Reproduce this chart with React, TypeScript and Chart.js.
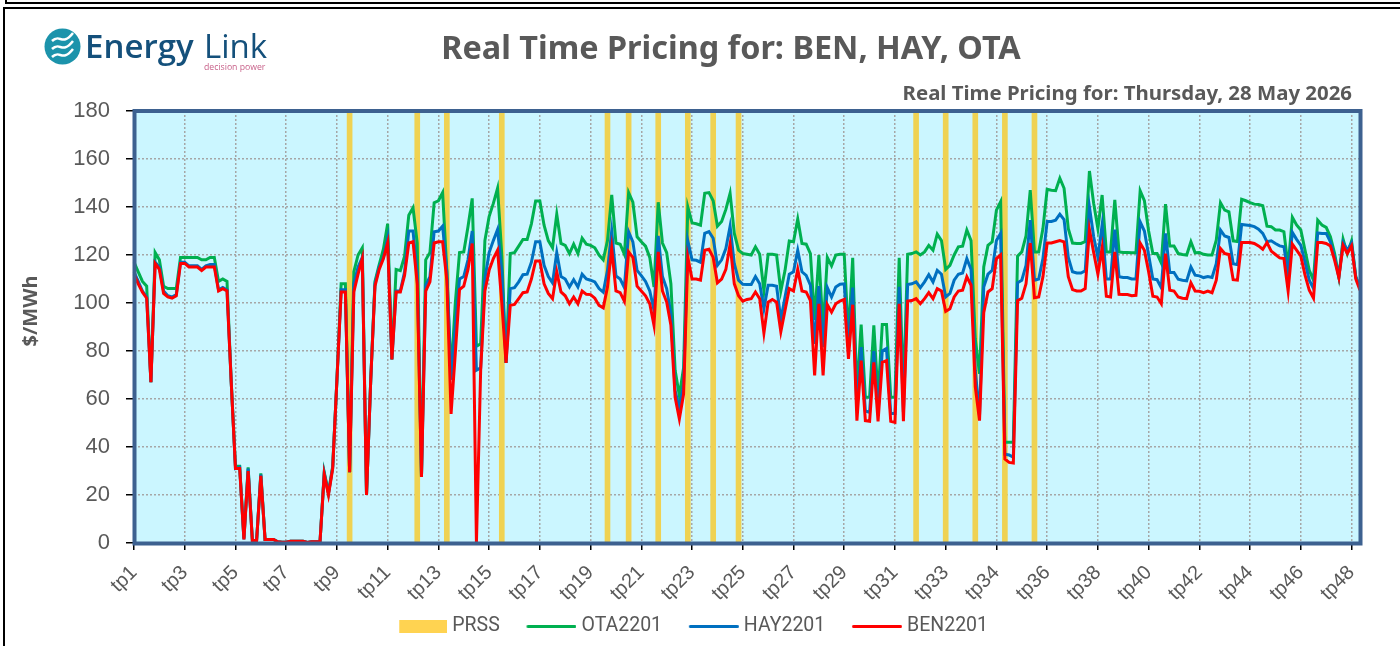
import React, { useEffect, useRef } from "react";
import { Chart, registerables } from "chart.js";

Chart.register(...registerables);

const tickLabels = [
  "tp1", "tp3", "tp5", "tp7", "tp9", "tp11", "tp13", "tp15", "tp17", "tp19", "tp21", "tp23", "tp25",
  "tp27", "tp29", "tp31", "tp33", "tp34", "tp36", "tp38", "tp40", "tp42", "tp44", "tp46", "tp48",
];

const POINTS_PER_TICK = 12;

const prssIndices = [51, 67, 74, 87, 112, 117, 124, 131, 137, 143, 185, 192, 199, 206, 213];

const ota2201 = [
  117, 113, 109, 107, 67, 121, 118, 107, 106, 106,
  106, 119, 119, 119, 119, 119, 118, 118, 119, 119,
  109, 110, 109, 67, 32, 32, 2, 31.5, 1, 1,
  29, 1.5, 1.5, 1.5, 0.5, 0.3, 0.3, 0.7, 0.7, 0.7,
  0.7, 0.2, 0.5, 0.5, 0.5, 29.5, 21, 32, 68, 108,
  108, 29.5, 113, 120, 123, 20, 68, 109, 116, 122.5,
  133, 76.5, 114, 113.5, 119.5, 136.6, 139.7, 125, 27.5, 118,
  121, 141.8, 142.6, 146, 113.6, 70, 100, 121, 121.3, 131.8,
  143.6, 82, 83, 126, 136, 141.5, 147.8, 120, 75, 120.6,
  121, 123.7, 126.5, 126.5, 133, 142.5, 142.5, 132.4, 126, 123,
  137, 124.8, 124, 120.6, 124.5, 120.6, 127, 124.5, 124, 123,
  120, 118, 126, 145, 125, 124.5, 120.3, 146, 142, 127.6,
  125.5, 123.7, 119, 106.7, 142, 125, 121, 108, 72, 61.4,
  73, 140, 133.4, 133, 132.4, 145.7, 146, 142.6, 132, 134,
  139, 145.7, 129, 122, 120.6, 120.3, 120, 123.4, 120.3, 105,
  120.3, 120.3, 120, 105, 113.6, 125.8, 125.5, 135, 124.8, 124.5,
  120.6, 93, 120, 88.6, 119, 115.5, 120, 120.3, 120.3, 85.8,
  118.8, 62, 91, 60.7, 60.7, 90.7, 60.7, 91, 91, 60.7,
  60.7, 118.8, 62, 120.3, 120.6, 121.3, 120, 121.3, 124, 122,
  128.7, 126, 114, 115.7, 120, 123.4, 123.7, 130.4, 126, 85,
  70.5, 115, 124, 125.5, 138.7, 142.2, 42, 42, 42, 119.5,
  121.3, 128, 147, 121.3, 121.3, 131, 147.4, 147, 146.8, 152,
  147.8, 131, 125, 124.8, 124.8, 125.6, 155, 141.5, 131, 145,
  121.3, 121.3, 143, 121.3, 121, 121, 120.9, 120.9, 146.7, 142.6,
  130, 120.6, 120.6, 116.7, 141.2, 123.7, 123.7, 120.6, 120.2, 120,
  125.5, 120.9, 121, 120.3, 120, 120, 126.2, 141.8, 138.7, 138,
  125.9, 125.6, 143.2, 142.6, 141.8, 141.2, 141, 140.5, 132, 131.8,
  130.4, 130.4, 129.7, 115, 135.7, 132.5, 130.4, 122, 113.6, 109.5,
  134.5, 132.5, 131.5, 127.6, 120.6, 110.9, 126.6, 120.5, 125.8, 110.9,
  106.7,
];

const hay2201 = [
  113, 109, 105, 102.5, 67, 117, 115, 105, 103, 102.5,
  103.5, 117, 117, 115.5, 115.5, 115.5, 114, 115.5, 116, 116,
  105.5, 106.5, 105.5, 67, 31, 31.5, 1.5, 31, 1, 1,
  28.5, 1.5, 1.5, 1.5, 0.5, 0.3, 0.3, 0.7, 0.7, 0.7,
  0.7, 0.2, 0.5, 0.5, 0.5, 29, 20.5, 31.5, 68, 105.5,
  105.5, 29.5, 108, 115, 119, 20, 68, 108, 115, 119,
  127, 76.5, 105, 105, 113, 130, 130, 112, 27.5, 107.4,
  111, 129.7, 130, 132, 113, 68, 90, 110, 111, 118,
  130, 72, 73, 110, 121, 126, 130.6, 113, 75, 106,
  106.4, 108.8, 111.8, 112, 117, 125.5, 125.5, 115.7, 111, 108.4,
  121, 111, 110, 106.7, 109.7, 106.7, 112, 110, 109.5, 108.8,
  106, 104.5, 113.6, 130, 111.3, 110, 106.4, 129.7, 125.5, 113.6,
  111.4, 109, 105, 97, 128, 111, 106, 95.5, 63.5, 56,
  66, 126, 118, 117.8, 117, 129, 129.7, 127, 115.7, 118,
  122.7, 132, 116.4, 109.5, 107.8, 107.7, 107.7, 111, 108, 97.6,
  107.4, 107.4, 107, 93, 102.5, 112, 113, 122, 113, 111.5,
  107.4, 83, 107, 81.6, 106.4, 102.5, 106.7, 107.8, 108, 82,
  106.4, 55, 81.6, 55, 54.5, 80, 54.5, 80, 81, 54,
  54, 106.7, 54.5, 107.7, 108, 108.8, 106.4, 108.8, 111.8, 108.8,
  113.6, 112, 102.5, 104, 109.5, 112, 112.5, 118.5, 114, 72,
  53, 106.7, 112, 113.6, 126, 129, 37, 36.7, 35.7, 108.4,
  109.5, 115.7, 134.5, 109.5, 110, 118.5, 134, 134, 134.5, 137,
  134.8, 119, 113, 112.5, 112.5, 113.4, 140, 127.6, 119, 132.5,
  110, 110, 130.6, 110.9, 110.6, 110.6, 110, 110, 133.8, 130,
  120, 110, 109.7, 106.4, 129, 112.7, 112.7, 109.9, 109.5, 109.2,
  115, 111.6, 111.3, 110.6, 111, 110.6, 116.4, 130.4, 127.9, 127.3,
  116.4, 116, 132.7, 132.5, 132.3, 131.8, 130.8, 129, 125.5, 125.9,
  124.8, 123.8, 123.4, 112.3, 129.4, 126.5, 124, 117, 109.5, 106,
  129.2, 129, 129, 125.5, 119, 110.9, 125.2, 122, 125, 110.9,
  106,
];

const ben2201 = [
  112, 108, 104.5, 102, 67, 116.5, 114, 104, 102.5, 102,
  103, 116.5, 116.5, 115, 115, 115, 113.5, 115, 115, 115,
  105, 106, 105, 67, 31, 31, 1.5, 30, 1, 1,
  28, 1.5, 1.5, 1.5, 0.5, 0.3, 0.3, 0.7, 0.7, 0.7,
  0.7, 0.2, 0.5, 0.5, 0.5, 28.5, 20, 31, 68, 104.6,
  104.6, 29.5, 104.6, 112, 118.5, 20, 68, 107, 114, 118.5,
  125, 76.5, 104.6, 104.6, 111.5, 125, 125.5, 108, 27.5, 105,
  108.8, 125, 125.5, 125.5, 109.5, 53.8, 79, 105.6, 107, 114,
  124.8, 0, 72, 105, 113.6, 118.5, 122, 100, 75, 99,
  99.4, 101.8, 104.3, 104.6, 110, 117.5, 117.5, 108, 104, 101.8,
  113, 104.6, 103, 99.7, 102.5, 99.7, 105, 103.6, 103.5, 102,
  99, 98, 106.7, 122.7, 105, 104.3, 100.7, 121.3, 119, 107,
  105, 103, 99.7, 90.7, 121.3, 105, 100.4, 90.7, 60.7, 51.7,
  62, 119, 110, 110, 109.5, 122, 122.4, 119, 108.4, 110,
  114, 124.5, 108, 103, 100.8, 101.5, 101.8, 104.6, 101.8, 87.5,
  100.4, 101.5, 100.4, 88, 97, 106, 105, 114, 105, 104.6,
  101, 69.8, 99.7, 69.8, 99.3, 96.2, 99.7, 100.8, 101.5, 76.7,
  99.3, 51, 76, 51, 50.7, 75.3, 50.7, 75.3, 76, 50.7,
  50.3, 99.7, 50.7, 100.8, 101, 101.8, 99.7, 101.8, 104.3, 101.8,
  106, 105, 96.5, 97.6, 102.5, 105, 105.3, 110.9, 107.4, 65,
  51, 96, 104.6, 106, 118.5, 120, 35, 33.6, 33.3, 101,
  102, 108, 125, 102.2, 102.5, 110.9, 125, 125, 125.5, 126,
  125.5, 111, 105.6, 105, 105, 106, 130.6, 121, 112, 123,
  102.8, 102.5, 121.3, 103.6, 103.5, 103.5, 103, 103.2, 125, 122,
  113, 102.8, 102.5, 99.7, 120.6, 105.3, 105, 102.5, 102, 101.8,
  108.4, 105, 104.9, 104.3, 105, 104.3, 109.5, 122.7, 120.6, 120.2,
  109.7, 109.5, 125.2, 125.2, 125.2, 124.8, 123.8, 122.4, 125.2, 121.6,
  120.2, 118.8, 118.5, 105, 124.5, 122, 119.5, 111.6, 105.3, 102,
  125.2, 125.2, 124.8, 123.8, 117.8, 110.6, 124, 120.6, 123.8, 110,
  105.3,
];

const categories = ben2201.map(
  (_, i) => tickLabels[Math.min(Math.floor(i / POINTS_PER_TICK), tickLabels.length - 1)]
);
const prss = ben2201.map((_, i) => (prssIndices.includes(i) ? 180 : null));

const TEXT = "#595959";
const GREEN = "#00B050";
const BLUE = "#0070C0";
const RED = "#FF0000";
const FONT = "'Liberation Sans', sans-serif";
const LEGEND_FONT = "Roboto, sans-serif";
const BOLD = "'Noto Sans', sans-serif";
const SWATCH_CANVAS = 67;

function swatch(w: number, h: number, color: string, round: boolean) {
  const c = document.createElement("canvas");
  c.width = SWATCH_CANVAS;
  c.height = h;
  const g = c.getContext("2d")!;
  g.fillStyle = color;
  if (round) {
    g.beginPath();
    g.roundRect(SWATCH_CANVAS - w, 0, w, h, h / 2);
    g.fill();
  } else {
    g.fillRect(SWATCH_CANVAS - w, 0, w, h);
  }
  return c;
}

const plotDecor = {
  id: "plotDecor",
  beforeDraw(chart: any) {
    const { ctx, chartArea: a } = chart;
    ctx.save();
    ctx.fillStyle = "#CBF6FF";
    ctx.fillRect(a.left, a.top, a.right - a.left, a.bottom - a.top);
    ctx.restore();
  },
  afterDatasetsDraw(chart: any) {
    const { ctx, chartArea: a } = chart;
    ctx.save();
    ctx.strokeStyle = "#3D6190";
    ctx.lineWidth = 4;
    ctx.strokeRect(a.left + 0.5, a.top, a.right - a.left, a.bottom - a.top + 0.5);
    ctx.restore();
  },
  afterDraw(chart: any) {
    const { ctx } = chart;
    ctx.save();
    ctx.textBaseline = "alphabetic";
    ctx.fillStyle = TEXT;
    ctx.font = `bold 32.4px ${BOLD}`;
    ctx.textAlign = "center";
    ctx.fillText("Real Time Pricing for: BEN, HAY, OTA", 731, 59);
    ctx.font = `bold 20.4px ${BOLD}`;
    ctx.textAlign = "right";
    ctx.fillText("Real Time Pricing for: Thursday, 28 May 2026", 1352, 100);
    ctx.save();
    ctx.translate(37, 311);
    ctx.rotate(-Math.PI / 2);
    ctx.textAlign = "center";
    ctx.font = `bold 20px ${BOLD}`;
    ctx.fillText("$/MWh", 0, 0);
    ctx.restore();

    // logo
    ctx.fillStyle = "#1C93AB";
    ctx.beginPath();
    ctx.arc(62.5, 46.5, 18, 0, Math.PI * 2);
    ctx.fill();
    ctx.strokeStyle = "#FFFFFF";
    ctx.lineWidth = 2.5;
    [-9, -1, 7].forEach((d) => {
      ctx.beginPath();
      ctx.moveTo(52, 50 + d);
      ctx.bezierCurveTo(60, 42 + d, 62, 56 + d, 73, 42 + d);
      ctx.stroke();
    });
    ctx.textAlign = "left";
    ctx.fillStyle = "#14507B";
    ctx.font = "600 33px 'Open Sans', sans-serif";
    ctx.fillText("Energy", 85, 58);
    ctx.font = "400 33px 'Open Sans', sans-serif";
    ctx.fillText("Link", 204, 58);
    ctx.fillStyle = "#C8628A";
    ctx.font = "8.7px 'Open Sans', sans-serif";
    ctx.fillText("decision power", 204, 69.5);
    ctx.restore();
  },
};

export default function App() {
  const ref = useRef<HTMLCanvasElement>(null);

  useEffect(() => {
    const swatches = [
      swatch(48, 13, "#FFD351", false),
      swatch(50, 3, GREEN, true),
      swatch(50, 3, BLUE, true),
      swatch(50, 3, RED, true),
    ];
    const chart = new Chart(ref.current!, {
      type: "line",
      data: {
        labels: categories,
        datasets: [
          { type: "bar", label: "PRSS", data: prss, backgroundColor: "#EFD252", barThickness: 5, order: 3 },
          { label: "OTA2201", data: ota2201, borderColor: GREEN, backgroundColor: GREEN, order: 2 },
          { label: "HAY2201", data: hay2201, borderColor: BLUE, backgroundColor: BLUE, order: 1 },
          { label: "BEN2201", data: ben2201, borderColor: RED, backgroundColor: RED, order: 0 },
        ] as any,
      },
      options: {
        responsive: false,
        animation: false,
        devicePixelRatio: 1,
        layout: { padding: { left: 13, top: 111, right: 40, bottom: 0 } },
        elements: {
          point: { radius: 0 },
          line: { borderWidth: 3, tension: 0, borderJoinStyle: "miter" },
        },
        scales: {
          x: {
            offset: false,
            grid: {
              offset: false,
              color: "#A6A6A6",
              lineWidth: 1.5,
              tickColor: "#000000",
              tickLength: 7,
              tickWidth: 1.5,
              tickBorderDash: [],
            },
            border: { display: false, dash: [2, 2] },
            ticks: {
              autoSkip: false,
              minRotation: 45,
              maxRotation: 45,
              padding: 11,
              color: TEXT,
              font: { family: FONT, size: 20 },
            },
            afterBuildTicks(axis: any) {
              axis.ticks = axis.ticks.filter((t: any) => t.value % POINTS_PER_TICK === 0);
            },
            afterFit(axis: any) {
              axis.height = 59;
            },
          },
          y: {
            min: 0,
            max: 180,
            grid: {
              color: "#A6A6A6",
              lineWidth: 1.5,
              tickColor: "#000000",
              tickLength: 8,
              tickWidth: 1.5,
              tickBorderDash: [],
            },
            border: { display: false, dash: [2, 2] },
            ticks: {
              stepSize: 20,
              padding: 16,
              color: TEXT,
              font: { family: FONT, size: 22 },
            },
            afterFit(axis: any) {
              axis.width = 121;
            },
          },
        },
        plugins: {
          title: { display: false },
          tooltip: { enabled: false },
          legend: {
            display: true,
            position: "bottom",
            labels: {
              usePointStyle: true,
              pointStyleWidth: 57.5,
              padding: 14.5,
              color: TEXT,
              font: { family: LEGEND_FONT, size: 19.5 },
              generateLabels: (c: any) =>
                c.data.datasets.map((d: any, i: number) => ({
                  text: d.label,
                  fillStyle: d.backgroundColor,
                  strokeStyle: d.backgroundColor,
                  lineWidth: 0,
                  pointStyle: swatches[i],
                  datasetIndex: i,
                  hidden: false,
                  fontColor: TEXT,
                })),
            },
          },
        },
      },
      plugins: [plotDecor],
    } as any);
    return () => chart.destroy();
  }, []);

  const frame: React.CSSProperties = { position: "absolute", boxSizing: "border-box", borderColor: "#000", borderStyle: "solid" };

  return (
    <div style={{ position: "fixed", left: 0, top: 0, width: 1400, height: 646, overflow: "hidden", background: "#fff" }}>
      <canvas ref={ref} width={1400} height={646} style={{ display: "block", width: 1400, height: 646 }} />
      <div style={{ ...frame, left: 5, top: -3, right: -3, height: 7, borderWidth: "0 0 2px 2px" }} />
      <div style={{ ...frame, left: 3, top: 7, right: -3, bottom: -3, borderWidth: "2px 0 0 2px" }} />
    </div>
  );
}
